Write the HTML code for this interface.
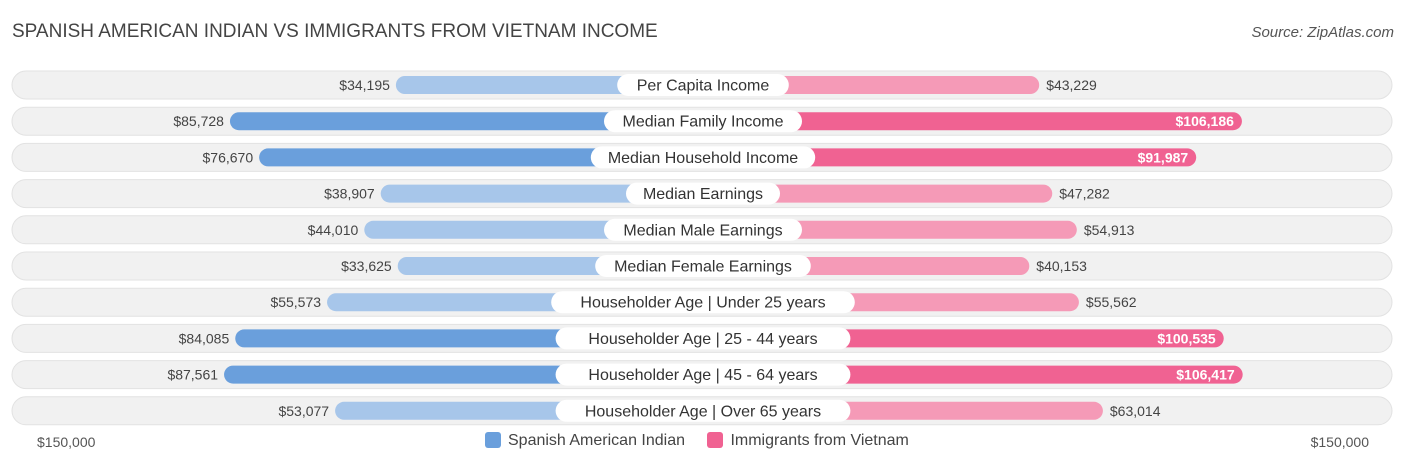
<!DOCTYPE html>
<html><head><meta charset="utf-8">
<style>
body{margin:0;width:1406px;height:467px;background:#fff;font-family:"Liberation Sans",sans-serif;overflow:hidden;position:relative}
.t{position:absolute;white-space:nowrap}
</style></head><body>
<div class="t" style="left:12px;top:21px;font-size:19px;color:#444">SPANISH AMERICAN INDIAN VS IMMIGRANTS FROM VIETNAM INCOME</div>
<div class="t" style="right:12px;top:24px;font-size:15px;color:#555;font-style:italic">Source: ZipAtlas.com</div>
<svg id="chart" width="1406" height="467" style="position:absolute;left:0;top:0"></svg>
<div class="t" style="left:37px;top:434px;font-size:14px;color:#555">$150,000</div>
<div class="t" style="right:37px;top:434px;font-size:14px;color:#555">$150,000</div>
<div class="t" style="left:485px;top:432px;font-size:16px;color:#444">
<span><span style="display:inline-block;width:16px;height:16px;background:#6a9fdc;border-radius:3px;vertical-align:-3px;margin-right:7px"></span>Spanish American Indian</span>
<span style="margin-left:18px"><span style="display:inline-block;width:16px;height:16px;background:#f06292;border-radius:3px;vertical-align:-3px;margin-right:7px"></span>Immigrants from Vietnam</span>
</div>
<script>
const categories=["Per Capita Income","Median Family Income","Median Household Income","Median Earnings","Median Male Earnings","Median Female Earnings","Householder Age | Under 25 years","Householder Age | 25 - 44 years","Householder Age | 45 - 64 years","Householder Age | Over 65 years"];
const spanishValues=[34195,85728,76670,38907,44010,33625,55573,84085,87561,53077];
const vietnamValues=[43229,106186,91987,47282,54913,40153,55562,100535,106417,63014];
const svg=document.getElementById('chart');
const NS='http://www.w3.org/2000/svg';
const cx=703,off=197,k=0.00322;
function xw(v){return off+v*k;}
function rowY(i){return 85+i*36.2;}
function fmt(v){return '$'+v.toLocaleString('en-US');}
function mk(tag,attrs){const e=document.createElementNS(NS,tag);for(const a in attrs)e.setAttribute(a,attrs[a]);svg.appendChild(e);return e;}
categories.forEach((c,i)=>{
  const y=rowY(i);
  const bg=mk('rect',{x:12,y:y-14,width:1380,height:28,rx:14,fill:'#f1f1f1',stroke:'#e2e2e2'});
  
  
  const sv=spanishValues[i],vv=vietnamValues[i];
  const sd=sv>70000,vd=vv>70000;
  const bl=mk('rect',{x:cx-xw(sv),y:y-9,width:xw(sv),height:18,rx:9,fill:sd?'#6a9fdc':'#a7c6ea'});
  
  
  const br=mk('rect',{x:cx,y:y-9,width:xw(vv),height:18,rx:9,fill:vd?'#f06292':'#f59ab7'});
  
  
  const tl=mk('text',{x:cx-xw(sv)-6,y:y+5,'text-anchor':'end','font-size':14,fill:'#444'});
  tl.textContent=fmt(sv);
  
  
  const inside=vv>90000;
  const tr=mk('text',{x:inside?cx+xw(vv)-8:cx+xw(vv)+7,y:y+5,'text-anchor':inside?'end':'start','font-size':14,fill:inside?'#fff':'#444','font-weight':inside?'bold':'normal'});
  tr.textContent=fmt(vv);
  
  
  const w=c.length*8.8+22;
  const lb=mk('rect',{x:cx-w/2,y:y-11,width:w,height:22,rx:11,fill:'#fff'});
  
  
  const lt=mk('text',{x:cx,y:y+5.5,'text-anchor':'middle','font-size':16,fill:'#333'});
  lt.textContent=c;
  
  
});
</script>
</body></html>
